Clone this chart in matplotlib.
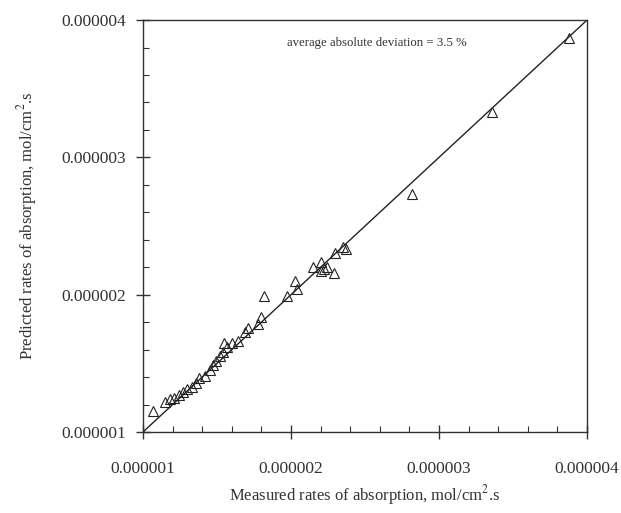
import matplotlib
matplotlib.use("Agg")
import matplotlib.pyplot as plt
from matplotlib.ticker import MultipleLocator

plt.rcParams["font.family"] = ["Liberation Serif", "DejaVu Serif"]
plt.rcParams["mathtext.fontset"] = "stix"

# 测量值与预测值 (单位 1e-6 mol/cm2.s)
measured = [1.07, 1.15, 1.18, 1.21, 1.24, 1.27, 1.30, 1.33, 1.36, 1.38,
            1.42, 1.45, 1.47, 1.49, 1.52, 1.54, 1.57, 1.55, 1.60, 1.64,
            1.69, 1.71, 1.78, 1.80, 1.82, 1.97, 2.03, 2.04, 2.15, 2.20,
            2.22, 2.20, 2.24, 2.29, 2.30, 2.35, 2.37, 2.82, 3.36, 3.88]
predicted = [1.15, 1.22, 1.24, 1.25, 1.27, 1.29, 1.31, 1.33, 1.36, 1.39,
             1.41, 1.45, 1.49, 1.52, 1.55, 1.58, 1.62, 1.65, 1.65, 1.66,
             1.73, 1.76, 1.79, 1.84, 1.99, 1.99, 2.10, 2.04, 2.20, 2.24,
             2.19, 2.17, 2.20, 2.16, 2.30, 2.35, 2.33, 2.73, 3.33, 3.87]
measured = [v * 1e-6 for v in measured]
predicted = [v * 1e-6 for v in predicted]

tick_vals = [1e-6, 2e-6, 3e-6, 4e-6]
tick_labels = ["0.000001", "0.000002", "0.000003", "0.000004"]
note = "average absolute deviation = 3.5 %"

fig = plt.figure(figsize=(6.21, 5.13), dpi=100)
ax = fig.add_axes([0.2303, 0.1579, 0.715, 0.803])

grey = "#333333"
ax.plot([1e-6, 4e-6], [1e-6, 4e-6], color="#222222", lw=1.0)  # y = x 参考线
ax.plot(measured, predicted, linestyle="none", marker="^", markersize=6.8,
        markerfacecolor="none", markeredgecolor="#222222", markeredgewidth=0.8)

ax.set_xlim(1e-6, 4e-6)
ax.set_ylim(1e-6, 4e-6)
ax.set_xticks(tick_vals)
ax.set_xticklabels(tick_labels)
ax.set_yticks(tick_vals)
ax.set_yticklabels(tick_labels)
ax.xaxis.set_minor_locator(MultipleLocator(0.2e-6))
ax.yaxis.set_minor_locator(MultipleLocator(0.2e-6))
ax.tick_params(axis="x", which="major", direction="inout", length=10, width=1,
               pad=16, labelsize=12.5, colors=grey)
ax.tick_params(axis="y", which="major", direction="inout", length=10, width=1,
               pad=7, labelsize=12.5, colors=grey)
ax.tick_params(which="minor", direction="in", length=4, width=0.8, colors=grey)
for s in ax.spines.values():
    s.set_color(grey)
    s.set_linewidth(1.0)

ax.set_xlabel(r"Measured rates of absorption, mol/cm$^{2}$.s", fontsize=12,
              color=grey, labelpad=4)
ax.set_ylabel(r"Predicted rates of absorption, mol/cm$^{2}$.s", fontsize=12,
              color=grey, labelpad=16)
ax.text(0.324, 0.944, note, transform=ax.transAxes, fontsize=9.2, color=grey,
        ha="left", va="center")

fig.savefig("out.png", dpi=100)
